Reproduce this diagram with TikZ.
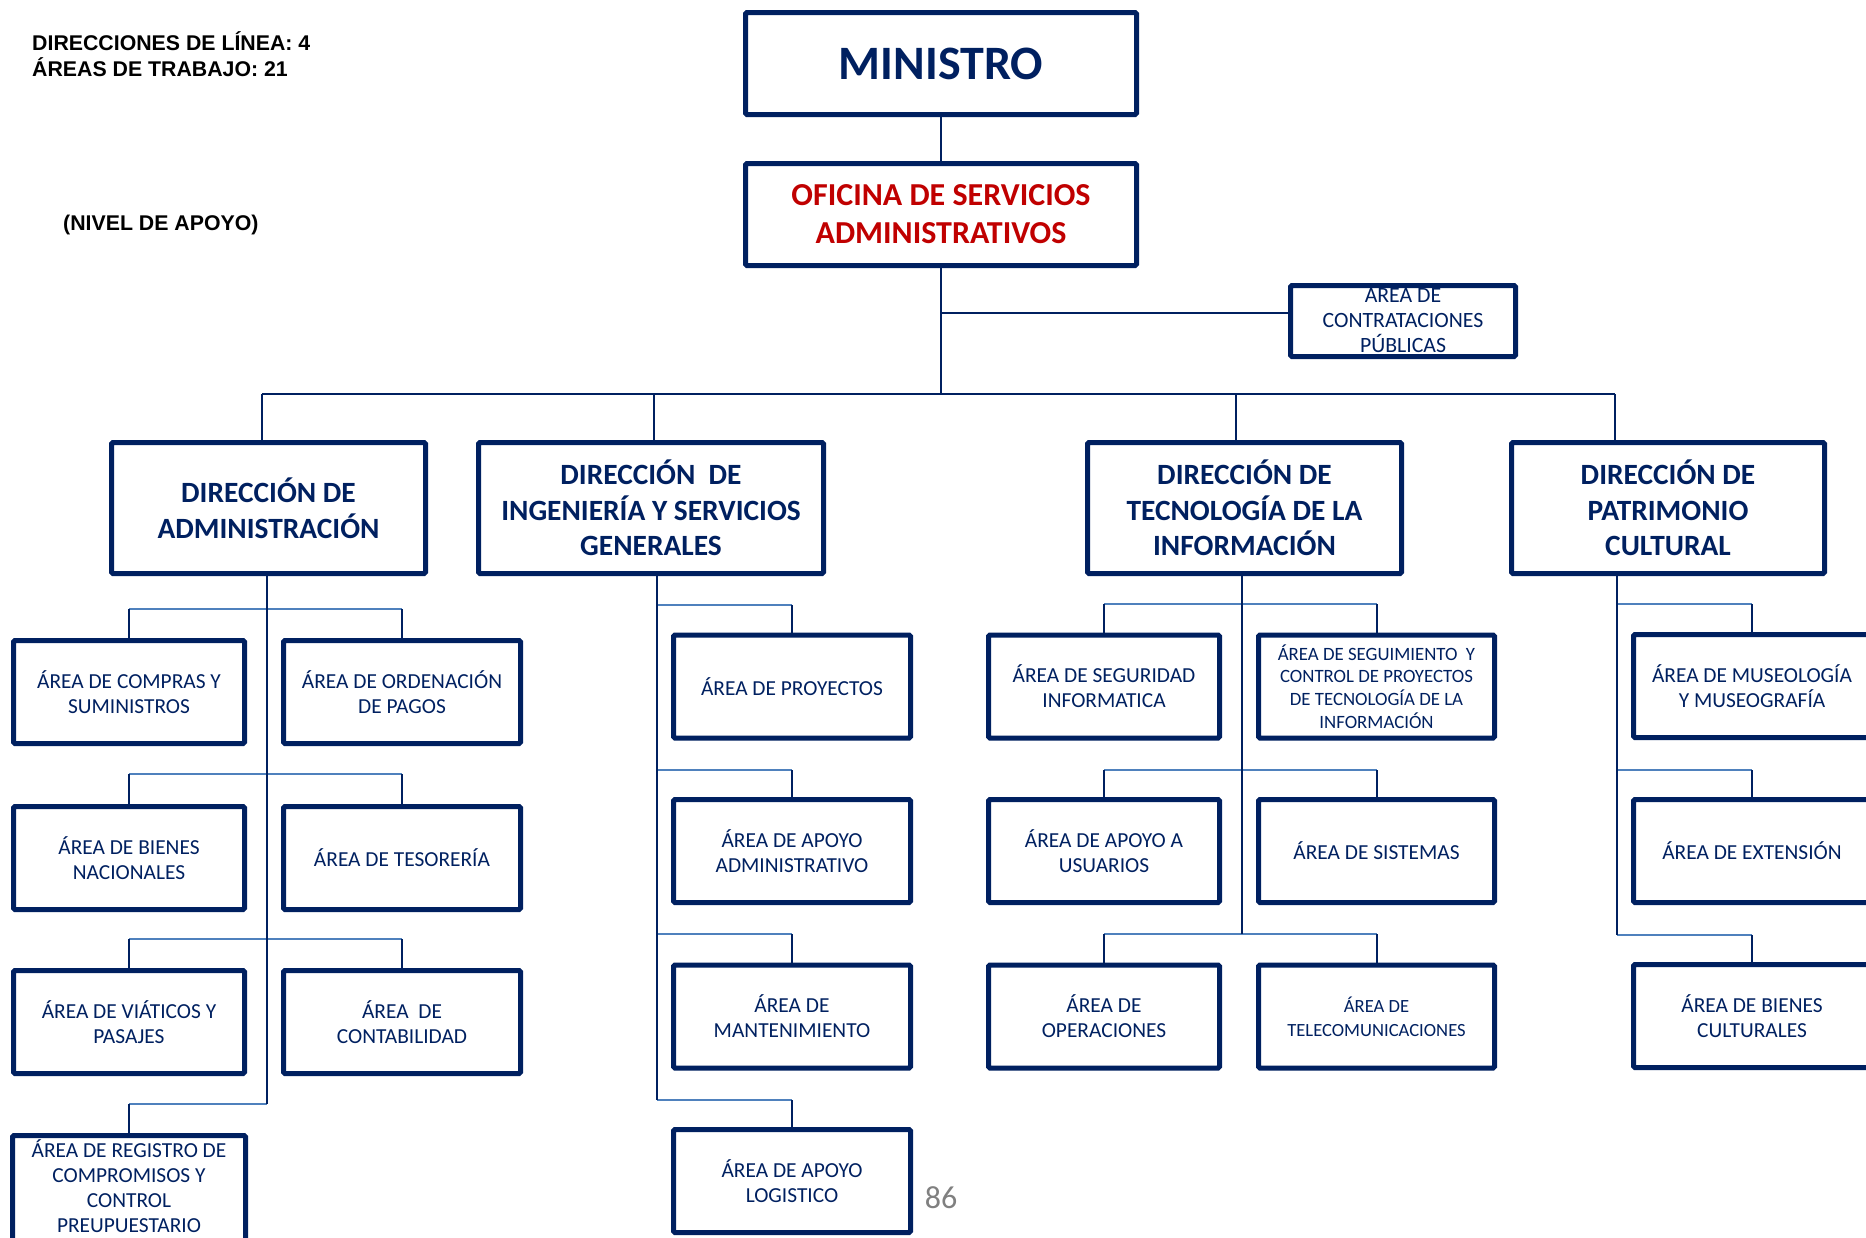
\documentclass[tikz,border=0pt]{standalone}
\usepackage{fontspec}
\setmainfont{Carlito}
\newfontfamily\headfont{Liberation Sans}
\usetikzlibrary{positioning}
\definecolor{navy}{HTML}{002060}
\definecolor{darkred}{HTML}{C00000}
\definecolor{linkblue}{HTML}{4F81BD}
\definecolor{pagegray}{HTML}{808080}
\newcommand{\fs}[2]{\fontsize{#1}{#2}\selectfont}

\begin{document}
\begin{tikzpicture}[x=1pt,y=-1pt]
		\tikzstyle{unitbox}=[rectangle, draw=navy, line width=5pt, rounded corners=1.5pt, text=navy, align=center, inner sep=0pt, minimum width=237pt, minimum height=103pt, font=\fs{21.4}{25}]
		\tikzstyle{office}=[unitbox, minimum width=391pt, minimum height=102pt]
		\tikzstyle{direction}=[unitbox, minimum width=314pt, minimum height=131pt, font=\bfseries\fs{29.4}{35.5}]
		\tikzstyle{connect}=[draw=navy, line width=2pt]
		\tikzstyle{branch}=[draw=linkblue, line width=2pt]
		\tikzstyle{note}=[anchor=base west, inner sep=0pt, font=\headfont\bfseries\fs{21.3}{26}]
		\useasboundingbox (0,0) rectangle (1866,1237);
		\clip (0,0) rectangle (1866,1237);

		% notes
		\node[note] (lines)  at (32,50)  {DIRECCIONES DE LÍNEA: 4};
		\node[note] (areas)  at (32,76)  {ÁREAS DE TRABAJO: 21};
		\node[note] (level)  at (63,230) {(NIVEL DE APOYO)};
		\node[text=pagegray, inner sep=0pt, font=\fs{32}{36}] (pagenum) at (941,1198) {86};

		% top
		\node[office, font=\bfseries\fs{48}{52}]             (ministro) at (941,63.5)  {MINISTRO};
		\node[office, text=darkred, font=\bfseries\fs{32}{38}] (oficina) at (941,214.5) {OFICINA DE SERVICIOS\\ADMINISTRATIVOS};
		\node[unitbox, minimum width=225pt, minimum height=71pt, font=\fs{21.8}{25}] (contrat) at (1403,321) {AREA DE\\CONTRATACIONES\\PÚBLICAS};

		% direcciones
		\node[direction]                     (dadm) at (268.5,508)  {DIRECCIÓN DE\\ADMINISTRACIÓN};
		\node[direction, minimum width=345pt] (ding) at (651,508)   {DIRECCIÓN\ \ DE\\INGENIERÍA Y SERVICIOS\\GENERALES};
		\node[direction]                     (dtec) at (1244.5,508) {DIRECCIÓN DE\\TECNOLOGÍA DE LA\\INFORMACIÓN};
		\node[direction, minimum width=313pt] (dpat) at (1668,508)  {DIRECCIÓN DE\\PATRIMONIO\\CULTURAL};

		% administracion
		\node[unitbox, minimum width=231pt] (compras)   at (129,692)  {ÁREA DE COMPRAS Y\\SUMINISTROS};
		\node[unitbox]                      (pagos)     at (402,692)  {ÁREA DE ORDENACIÓN\\DE PAGOS};
		\node[unitbox, minimum width=231pt] (bienesnac) at (129,858)  {ÁREA DE BIENES\\NACIONALES};
		\node[unitbox]                      (tesoreria) at (402,858)  {ÁREA DE TESORERÍA};
		\node[unitbox, minimum width=231pt] (viaticos)  at (129,1022) {ÁREA DE VIÁTICOS Y\\PASAJES};
		\node[unitbox]                      (contab)    at (402,1022) {ÁREA\ \ DE\\CONTABILIDAD};
		\node[unitbox, minimum width=233pt, minimum height=120pt, text depth=19pt] (registro) at (129,1195.5) {ÁREA DE REGISTRO DE\\COMPROMISOS Y\\CONTROL\\PREUPUESTARIO};

		% ingenieria
		\node[unitbox] (proyectos) at (792,686.5)  {ÁREA DE PROYECTOS};
		\node[unitbox] (apoyoadm)  at (792,851)    {ÁREA DE APOYO\\ADMINISTRATIVO};
		\node[unitbox] (mantenim)  at (792,1016.5) {ÁREA DE\\MANTENIMIENTO};
		\node[unitbox] (logistico) at (792,1181)   {ÁREA DE APOYO\\LOGISTICO};

		% tecnologia
		\node[unitbox, minimum width=231pt]                     (seguridad)   at (1104,686.5)    {ÁREA DE SEGURIDAD\\INFORMATICA};
		\node[unitbox, minimum width=236pt, font=\fs{18.8}{22.6}] (seguimiento) at (1376.5,686.5) {ÁREA DE SEGUIMIENTO\ \ Y\\CONTROL DE PROYECTOS\\DE TECNOLOGÍA DE LA\\INFORMACIÓN};
		\node[unitbox, minimum width=231pt]                     (usuarios)    at (1104,851)      {ÁREA DE APOYO A\\USUARIOS};
		\node[unitbox, minimum width=236pt]                     (sistemas)    at (1376.5,851)    {ÁREA DE SISTEMAS};
		\node[unitbox, minimum width=231pt]                     (operaciones) at (1104,1016.5)   {ÁREA DE\\OPERACIONES};
		\node[unitbox, minimum width=236pt, font=\fs{18.6}{24}]   (telecom)     at (1376.5,1016.5) {ÁREA DE\\TELECOMUNICACIONES};

		% patrimonio
		\node[unitbox] (museologia) at (1752,686)  {ÁREA DE MUSEOLOGÍA\\Y MUSEOGRAFÍA};
		\node[unitbox] (extension)  at (1752,851)  {ÁREA DE EXTENSIÓN};
		\node[unitbox] (bienescul)  at (1752,1016) {ÁREA DE BIENES\\CULTURALES};

		% junctions
		\coordinate (tap) at (941,313);
		\coordinate (hub) at (941,394);
		\coordinate (s1) at (262,394);
		\coordinate (s2) at (654,394);
		\coordinate (s3) at (1236,394);
		\coordinate (s4) at (1615,394);
		\coordinate (ar1) at (267,609);  \coordinate (ar2) at (267,774);
		\coordinate (ar3) at (267,939);  \coordinate (ar4) at (267,1104);
		\coordinate (ir1) at (657,605);  \coordinate (ir2) at (657,770);
		\coordinate (ir3) at (657,934);  \coordinate (ir4) at (657,1100);
		\coordinate (tr1) at (1242,604); \coordinate (tr2) at (1242,770);
		\coordinate (tr3) at (1242,934);
		\coordinate (pr1) at (1617,604); \coordinate (pr2) at (1617,770);
		\coordinate (pr3) at (1617,935);

		\path
		(compras.north |- ar1)   edge [branch] (pagos.north |- ar1)
		(bienesnac.north |- ar2) edge [branch] (tesoreria.north |- ar2)
		(viaticos.north |- ar3)  edge [branch] (contab.north |- ar3)
		(registro.north |- ar4)  edge [branch] (ar4)
		(ir1) edge [branch] (proyectos.north |- ir1)
		(ir2) edge [branch] (apoyoadm.north |- ir2)
		(ir3) edge [branch] (mantenim.north |- ir3)
		(ir4) edge [branch] (logistico.north |- ir4)
		(seguridad.north |- tr1)   edge [branch] (seguimiento.north |- tr1)
		(usuarios.north |- tr2)    edge [branch] (sistemas.north |- tr2)
		(operaciones.north |- tr3) edge [branch] (telecom.north |- tr3)
		(pr1) edge [branch] (museologia.north |- pr1)
		(pr2) edge [branch] (extension.north |- pr2)
		(pr3) edge [branch] (bienescul.north |- pr3)
		;

		\path
		(ministro) edge [connect] (oficina)
		(oficina)  edge [connect] (hub)
		(tap)      edge [connect] (tap -| contrat.west)
		(s1)       edge [connect] (s4)
		(s1)       edge [connect] (s1 |- dadm.north)
		(s2)       edge [connect] (s2 |- ding.north)
		(s3)       edge [connect] (s3 |- dtec.north)
		(s4)       edge [connect] (s4 |- dpat.north)

		(ar1 |- dadm.south) edge [connect] (ar4)
		(ir1 |- ding.south) edge [connect] (ir4)
		(tr1 |- dtec.south) edge [connect] (tr3)
		(pr1 |- dpat.south) edge [connect] (pr3)

		(compras.north |- ar1)     edge [connect] (compras.north)
		(pagos.north |- ar1)       edge [connect] (pagos.north)
		(bienesnac.north |- ar2)   edge [connect] (bienesnac.north)
		(tesoreria.north |- ar2)   edge [connect] (tesoreria.north)
		(viaticos.north |- ar3)    edge [connect] (viaticos.north)
		(contab.north |- ar3)      edge [connect] (contab.north)
		(registro.north |- ar4)    edge [connect] (registro.north)
		(proyectos.north |- ir1)   edge [connect] (proyectos.north)
		(apoyoadm.north |- ir2)    edge [connect] (apoyoadm.north)
		(mantenim.north |- ir3)    edge [connect] (mantenim.north)
		(logistico.north |- ir4)   edge [connect] (logistico.north)
		(seguridad.north |- tr1)   edge [connect] (seguridad.north)
		(seguimiento.north |- tr1) edge [connect] (seguimiento.north)
		(usuarios.north |- tr2)    edge [connect] (usuarios.north)
		(sistemas.north |- tr2)    edge [connect] (sistemas.north)
		(operaciones.north |- tr3) edge [connect] (operaciones.north)
		(telecom.north |- tr3)     edge [connect] (telecom.north)
		(museologia.north |- pr1)  edge [connect] (museologia.north)
		(extension.north |- pr2)   edge [connect] (extension.north)
		(bienescul.north |- pr3)   edge [connect] (bienescul.north)
		;
\end{tikzpicture}
\end{document}
